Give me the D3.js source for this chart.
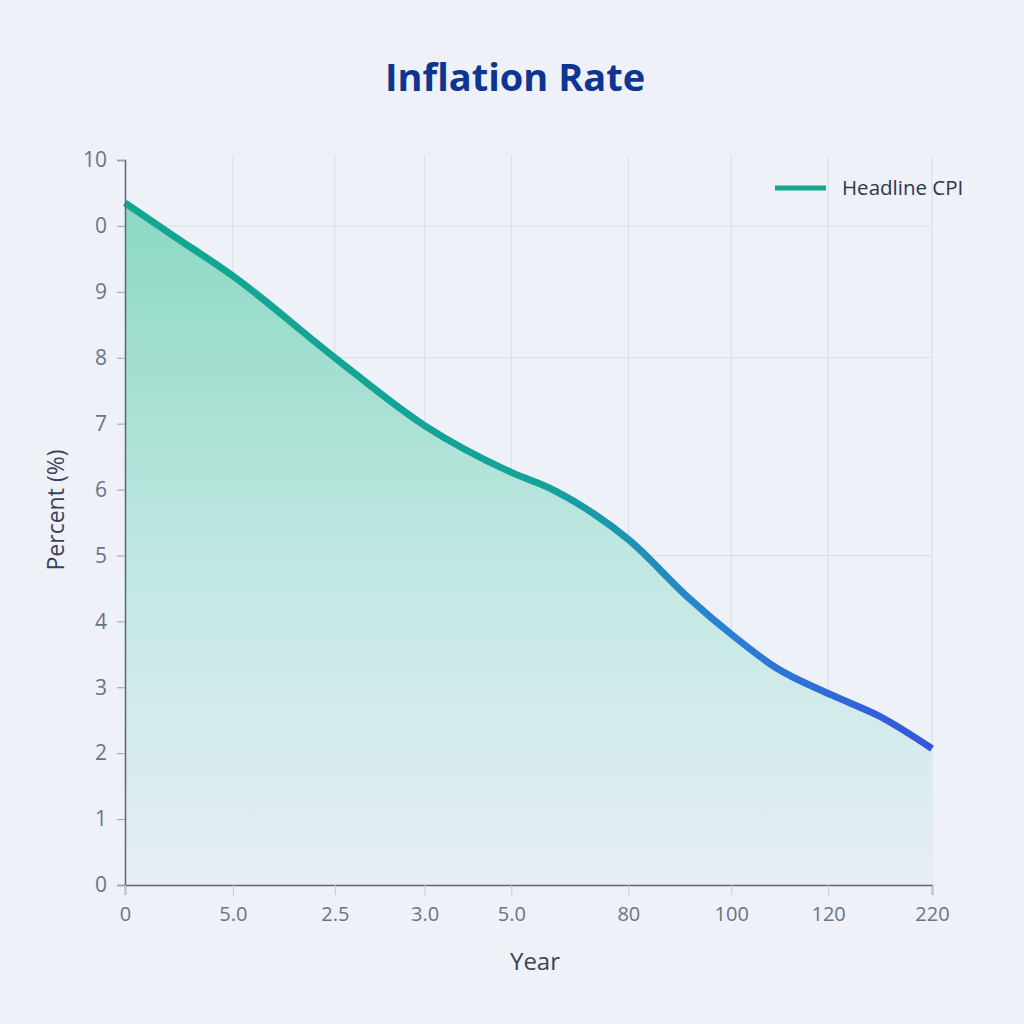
<!DOCTYPE html>
<html>
<head>
<meta charset="utf-8">
<script src="https://cdn.jsdelivr.net/npm/d3@7"></script>
<style>
  body { margin: 0; background: #eef1f8; }
  text { font-family: "Open Sans", "Noto Sans", sans-serif; }
</style>
</head>
<body>
<div id="vis"></div>
<script>
// data
var xTickValues = [0, 1.07, 2.08, 2.97, 3.83, 4.99, 6.01, 6.97, 8];
var xTickLabels = ["0", "5.0", "2.5", "3.0", "5.0", "80", "100", "120", "220"];
var yTickValues = [11, 10, 9, 8, 7, 6, 5, 4, 3, 2, 1, 0];
var yTickLabels = ["10", "0", "9", "8", "7", "6", "5", "4", "3", "2", "1", "0"];
var yGridValues = [10, 8, 5];

var cpiX = [0, 0.48, 1.07, 2.08, 2.97, 3.83, 4.24, 4.64, 5.0, 5.57, 6.03, 6.45, 7.01, 7.48, 8];
var cpiY = [10.35, 9.85, 9.24, 8.0, 6.97, 6.26, 6.0, 5.64, 5.23, 4.38, 3.78, 3.3, 2.88, 2.56, 2.07];

var width = 1024, height = 1024;
var margin = {top: 160, right: 92, bottom: 139, left: 125};

var svg = d3.select("#vis").append("svg")
    .attr("width", width)
    .attr("height", height);

svg.append("rect").attr("width", width).attr("height", height).attr("fill", "#eef1f8");

var x = d3.scaleLinear().domain([0, 8]).range([margin.left, width - margin.right]);
var y = d3.scaleLinear().domain([0, 11]).range([height - margin.bottom, margin.top]);

var defs = svg.append("defs");
var fillGrad = defs.append("linearGradient")
    .attr("id", "fillGrad").attr("gradientUnits", "userSpaceOnUse")
    .attr("x1", 0).attr("x2", 0).attr("y1", y(10.4)).attr("y2", y(0));
fillGrad.append("stop").attr("offset", "0%").attr("stop-color", "#8ad8c3");
fillGrad.append("stop").attr("offset", "55%").attr("stop-color", "#c2e8e3");
fillGrad.append("stop").attr("offset", "100%").attr("stop-color", "#e7eef5");

var lineGrad = defs.append("linearGradient")
    .attr("id", "lineGrad").attr("gradientUnits", "userSpaceOnUse")
    .attr("x1", x(0)).attr("x2", x(8)).attr("y1", 0).attr("y2", 0);
lineGrad.append("stop").attr("offset", "0%").attr("stop-color", "#12a791");
lineGrad.append("stop").attr("offset", "52%").attr("stop-color", "#16a29a");
lineGrad.append("stop").attr("offset", "75%").attr("stop-color", "#2a7fd6");
lineGrad.append("stop").attr("offset", "100%").attr("stop-color", "#3456dd");

// grid
svg.append("g").selectAll("line").data(xTickValues.slice(1)).enter().append("line")
    .attr("x1", function(d) { return x(d); }).attr("x2", function(d) { return x(d); })
    .attr("y1", y(11) - 5).attr("y2", y(0))
    .attr("stroke", "#d9dde8").attr("stroke-width", 1);
svg.append("g").selectAll("line").data(yGridValues).enter().append("line")
    .attr("x1", x(0)).attr("x2", x(8))
    .attr("y1", function(d) { return y(d); }).attr("y2", function(d) { return y(d); })
    .attr("stroke", "#d9dde8").attr("stroke-width", 1);

var pts = cpiX.map(function(d, i) { return [d, cpiY[i]]; });

var area = d3.area()
    .x(function(d) { return x(d[0]); })
    .y0(y(0))
    .y1(function(d) { return y(d[1]); })
    .curve(d3.curveMonotoneX);
svg.append("path").datum(pts).attr("d", area).attr("fill", "url(#fillGrad)");

var line = d3.line()
    .x(function(d) { return x(d[0]); })
    .y(function(d) { return y(d[1]); })
    .curve(d3.curveMonotoneX);
svg.append("path").datum(pts).attr("d", line)
    .attr("fill", "none").attr("stroke", "url(#lineGrad)").attr("stroke-width", 7);

// axes
var yAxis = svg.append("g")
    .attr("transform", "translate(" + x(0) + ",0)")
    .call(d3.axisLeft(y).tickValues(yTickValues).tickSize(8).tickPadding(10)
        .tickFormat(function(d, i) { return yTickLabels[i]; }));
yAxis.select(".domain").attr("stroke", "#5b6478").attr("stroke-width", 1.5);
yAxis.selectAll(".tick line").attr("stroke", "#9aa1b2");
yAxis.selectAll(".tick text").attr("fill", "#6b7386").style("font-size", "21px");

var xAxis = svg.append("g")
    .attr("transform", "translate(0," + y(0) + ")")
    .call(d3.axisBottom(x).tickValues(xTickValues).tickSize(10).tickPadding(12)
        .tickFormat(function(d, i) { return xTickLabels[i]; }));
xAxis.select(".domain").attr("stroke", "#5b6478").attr("stroke-width", 1.5);
xAxis.selectAll(".tick line").attr("stroke", "#c3c8d4");
xAxis.selectAll(".tick text").attr("fill", "#6b7386").style("font-size", "20px");

// title & labels
svg.append("text")
    .attr("x", 515).attr("y", 91)
    .attr("text-anchor", "middle")
    .style("font-size", "38px").style("font-weight", "700")
    .attr("fill", "#0e3591")
    .text("Inflation Rate");

svg.append("text")
    .attr("transform", "translate(64,510) rotate(-90)")
    .attr("text-anchor", "middle")
    .style("font-size", "23px")
    .attr("fill", "#3a4256")
    .text("Percent (%)");

svg.append("text")
    .attr("x", 535).attr("y", 970)
    .attr("text-anchor", "middle")
    .style("font-size", "24px")
    .attr("fill", "#3a4256")
    .text("Year");

// legend
svg.append("line")
    .attr("x1", 775).attr("x2", 826).attr("y1", 188).attr("y2", 188)
    .attr("stroke", "#17a98f").attr("stroke-width", 5);
svg.append("text")
    .attr("x", 842).attr("y", 195)
    .style("font-size", "20.5px")
    .attr("fill", "#2e3749")
    .text("Headline CPI");
</script>
</body>
</html>
